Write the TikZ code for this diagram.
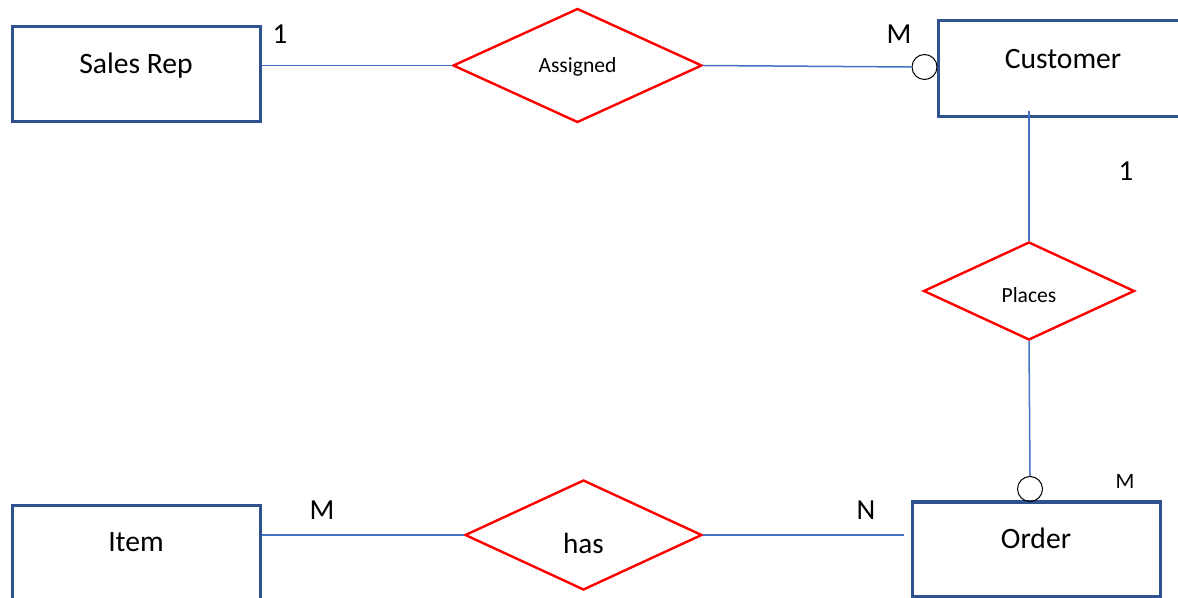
\documentclass[tikz,border=0pt]{standalone}
\usepackage{fontspec}
\setmainfont{Carlito}
\usetikzlibrary{shapes.geometric}
\definecolor{boxblue}{RGB}{47,82,143}
\definecolor{lineblue}{RGB}{68,114,196}
\definecolor{relred}{RGB}{255,0,0}

\begin{document}
\begin{tikzpicture}[
    x=0.5pt, y=-0.5pt,
    entity/.style={rectangle, draw=boxblue, line width=1.5pt, minimum width=124pt, minimum height=47.5pt, inner sep=0pt, text height=9pt, text depth=9.5pt, font=\fontsize{14.8}{17}\selectfont},
    relation/.style={diamond, draw=relred, line width=1.2pt, inner sep=0pt, text depth=0pt},
    link/.style={draw=lineblue, line width=0.75pt},
    optional/.style={circle, draw=black, line width=0.5pt, minimum size=12.5pt, inner sep=0pt},
    card/.style={anchor=base, inner sep=0pt, font=\fontsize{14.5}{17}\selectfont}
]

    % Page frame
    \clip (0,0) rectangle (1178,598);

    % Entities
    \node[entity] (sales_rep) at (136,74.5) {Sales Rep};
    \node[entity, minimum width=125pt, minimum height=48pt] (customer) at (1063,69) {Customer};
    \node[entity] (item) at (136,552.5) {Item};
    \node[entity, minimum height=47pt] (order) at (1036,549) {Order};

    % Relationships
    \node[relation, minimum width=124.5pt, minimum height=57pt, text height=7pt, font=\fontsize{10.8}{12}\selectfont] (assigned) at (577.5,65.5) {Assigned};
    \node[relation, minimum width=105.5pt, minimum height=49pt, text height=11.7pt, font=\fontsize{10.8}{12}\selectfont] (places) at (1029,291) {Places};
    \node[relation, minimum width=118.5pt, minimum height=55pt, text height=18pt, font=\fontsize{14.6}{17}\selectfont] (has) at (583.5,535) {has};

    % Optional markers
    \node[optional] (cust_opt) at (924.5,67) {};
    \node[optional] (order_opt) at (1030,489) {};

    % Cardinalities
    \node[card] (sales_card) at (280,44) {1};
    \node[card] (cust_card) at (899,44) {M};
    \node[card] (cust_places_card) at (1126,181) {1};
    \node[card, font=\fontsize{11}{13}\selectfont] (order_places_card) at (1125,488) {M};
    \node[card] (item_card) at (322,519) {M};
    \node[card] (order_card) at (866,519) {N};

    % Connectors
    \draw[link] (assigned.west) -- (assigned.west -| sales_rep.east);
    \draw[link] (assigned.east) -- (cust_opt.west);
    \draw[link] ([yshift=3.5pt]customer.south -| places.north) -- (places.north);
    \draw[link] (places.south) -- (order_opt.north);
    \draw[link] (has.west) -- (has.west -| item.east);
    \draw[link] (has.east) -- ([xshift=-3.5pt]has.east -| order.west);

\end{tikzpicture}
\end{document}
